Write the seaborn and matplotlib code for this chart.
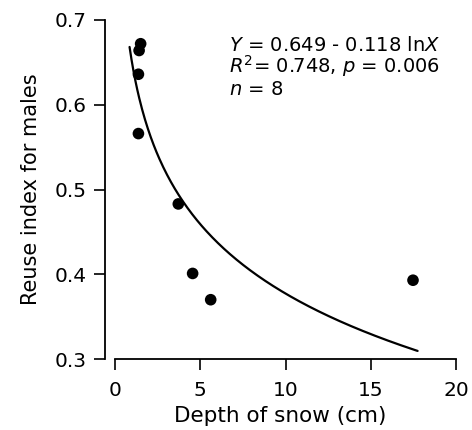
import numpy as np
import pandas as pd
import seaborn as sns
import matplotlib.pyplot as plt

# snow depth (cm) vs reuse index for males
depth = [1.50, 1.41, 1.37, 1.37, 3.71, 4.55, 5.61, 17.48]
reuse = [0.672, 0.664, 0.636, 0.566, 0.483, 0.401, 0.370, 0.393]

# fitted curve Y = a - b lnX
fit_a = 0.649
fit_b = 0.118
fit_range = [0.85, 17.75]

x_ticks = [0, 5, 10, 15, 20]
y_ticks = [0.3, 0.4, 0.5, 0.6, 0.7]

sns.set_style("ticks", {"axes.edgecolor": "black", "text.color": "black",
                        "axes.labelcolor": "black", "xtick.color": "black",
                        "ytick.color": "black"})
plt.rcParams["font.family"] = ["DejaVu Sans"]
plt.rcParams["mathtext.fontset"] = "dejavusans"

df = pd.DataFrame({"depth": depth, "reuse": reuse})
xs = np.linspace(fit_range[0], fit_range[1], 300)
curve = pd.DataFrame({"depth": xs, "reuse": fit_a - fit_b * np.log(xs)})

fig = plt.figure(figsize=(4.72, 4.30), dpi=100)
ax = fig.add_axes([0.2225, 0.165, 0.966 - 0.2225, 0.9535 - 0.165])

sns.lineplot(data=curve, x="depth", y="reuse", color="black", lw=1.6, ax=ax)
sns.scatterplot(data=df, x="depth", y="reuse", color="black", s=70,
                edgecolor="none", ax=ax, zorder=3)

ax.set_xlim(-0.59, 20)
ax.set_ylim(0.3, 0.7)
ax.set_xticks(x_ticks)
ax.set_yticks(y_ticks)
ax.set_xticklabels([str(t) for t in x_ticks], fontsize=14.5)
ax.set_yticklabels([f"{t:.1f}" for t in y_ticks], fontsize=14.5)
ax.spines["bottom"].set_bounds(0, 20)
sns.despine(ax=ax)
for s in ["left", "bottom"]:
    ax.spines[s].set_linewidth(1.3)
ax.tick_params(direction="out", length=8, width=1.2, pad=5)
ax.tick_params(axis="x", pad=8)
ax.set_xlabel("Depth of snow (cm)", fontsize=15.5, labelpad=4)
ax.set_ylabel("Reuse index for males", fontsize=15, labelpad=10)

ax.text(6.68, 0.6638, r"$Y$ = 0.649 - 0.118 ln$X$", fontsize=14)
ax.text(6.68, 0.6375, r"$R^2$= 0.748, $p$ = 0.006", fontsize=14)
ax.text(6.68, 0.6115, r"$n$ = 8", fontsize=14)

fig.savefig("out.png", dpi=100)
